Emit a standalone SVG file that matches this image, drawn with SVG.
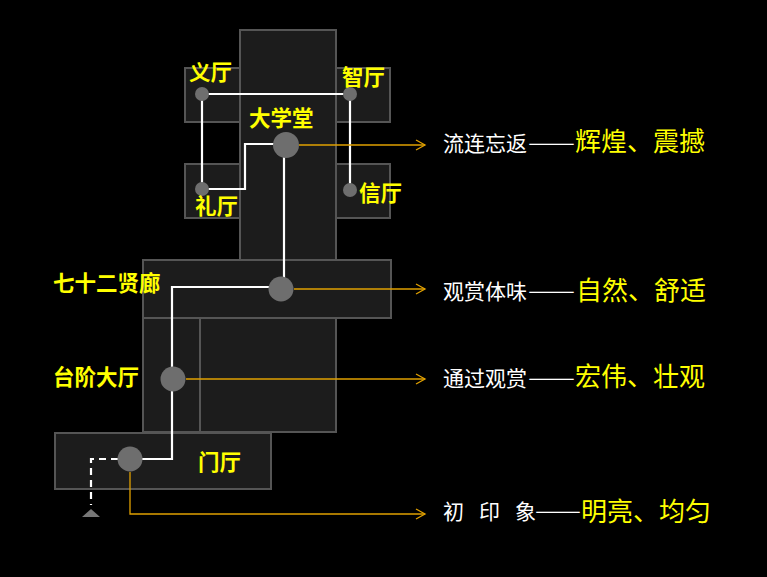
<svg xmlns="http://www.w3.org/2000/svg" width="767" height="577" viewBox="0 0 767 577">
<style>
.room{fill:#1c1c1c;stroke:#555;stroke-width:2}
.dot{fill:#6e6e6e}
.path{fill:none;stroke:#fff;stroke-width:2.2}
.dash{fill:none;stroke:#fff;stroke-width:2.2;stroke-dasharray:7,5}
.lead{fill:none;stroke:#e0a000;stroke-width:1.3}
.lbl{font-family:"Noto Sans CJK SC",sans-serif;font-weight:bold;fill:#ffff00;font-size:21.5px}
.w{font-family:"Noto Sans CJK SC",sans-serif;fill:#fff;font-size:21px}
.y{font-family:"Noto Sans CJK SC",sans-serif;fill:#ffff00;font-size:26px}
</style>
<defs>
<marker id="oa" markerWidth="12" markerHeight="12" refX="10" refY="6" orient="auto" markerUnits="userSpaceOnUse">
<path d="M1,1 L10,6 L1,11" fill="none" stroke="#e0a000" stroke-width="1.3"/>
</marker>
</defs>
<rect width="767" height="577" fill="#000"/>
<g id="rooms">
<rect id="hall-main" class="room" x="240" y="30" width="96" height="402"/>
<rect id="wing-yi" class="room" x="185" y="68" width="55" height="54"/>
<rect id="wing-zhi" class="room" x="336" y="68" width="54" height="54"/>
<rect id="wing-li" class="room" x="185" y="164" width="55" height="54"/>
<rect id="wing-xin" class="room" x="336" y="164" width="54" height="54"/>
<rect id="gallery" class="room" x="143" y="260" width="248" height="58"/>
<rect id="stair-col" class="room" x="143" y="318" width="57" height="114"/>
<rect id="lower-block" class="room" x="200" y="318" width="136" height="114"/>
<rect id="lobby" class="room" x="55" y="433" width="216" height="56"/>
</g>
<g id="connectors">
<path class="path" d="M202,94 H350 M202,94 V189 M350,94 V190"/>
<path class="path" d="M202,189 H245 V144 H278"/>
<path class="path" d="M284,150 V285"/>
<path class="path" d="M275,287 H172 V459 H135"/>
<path class="dash" d="M118,459 H91 V505"/>
<polygon points="82,517 100,517 91,509" fill="#777"/>
<path class="lead" d="M299,145 H425" marker-end="url(#oa)"/>
<path class="lead" d="M294,289 H425" marker-end="url(#oa)"/>
<path class="lead" d="M186,379 H425" marker-end="url(#oa)"/>
<path class="lead" d="M130,472 V514 H425" marker-end="url(#oa)"/>
</g>
<g id="node-yi"><circle class="dot" cx="202" cy="94" r="7"/><text class="lbl" x="189" y="80">义厅</text></g>
<g id="node-zhi"><circle class="dot" cx="350" cy="94" r="7"/><text class="lbl" x="342" y="85">智厅</text></g>
<g id="node-li"><circle class="dot" cx="202" cy="189" r="7"/><text class="lbl" x="195" y="214">礼厅</text></g>
<g id="node-xin"><circle class="dot" cx="350" cy="190" r="7"/><text class="lbl" x="359" y="201">信厅</text></g>
<g id="node-daxuetang"><circle class="dot" cx="286" cy="145" r="13"/><text class="lbl" x="249" y="126">大学堂</text></g>
<g id="node-gallery"><circle class="dot" cx="281" cy="289" r="12.5"/><text class="lbl" x="53" y="291" font-size="22">七十二贤廊</text></g>
<g id="node-stair"><circle class="dot" cx="173" cy="379" r="12.5"/><text class="lbl" x="53" y="385">台阶大厅</text></g>
<g id="node-lobby"><circle class="dot" cx="130" cy="459" r="12.5"/><text class="lbl" x="198" y="470">门厅</text></g>
<g id="notes">
<text class="w" x="443" y="151">流连忘返</text><text class="w" x="528" y="150" textLength="47" lengthAdjust="spacingAndGlyphs">——</text><text class="y" x="575" y="151">辉煌、震撼</text>
<text class="w" x="443" y="299">观赏体味</text><text class="w" x="528" y="298" textLength="47" lengthAdjust="spacingAndGlyphs">——</text><text class="y" x="576" y="300">自然、舒适</text>
<text class="w" x="443" y="386">通过观赏</text><text class="w" x="528" y="385" textLength="47" lengthAdjust="spacingAndGlyphs">——</text><text class="y" x="575" y="386">宏伟、壮观</text>
<text class="w" x="443 463 479 499 515" y="519">初 印 象</text><text class="w" x="535" y="518" textLength="46" lengthAdjust="spacingAndGlyphs">——</text><text class="y" x="581" y="521">明亮、均匀</text>
</g>
</svg>
